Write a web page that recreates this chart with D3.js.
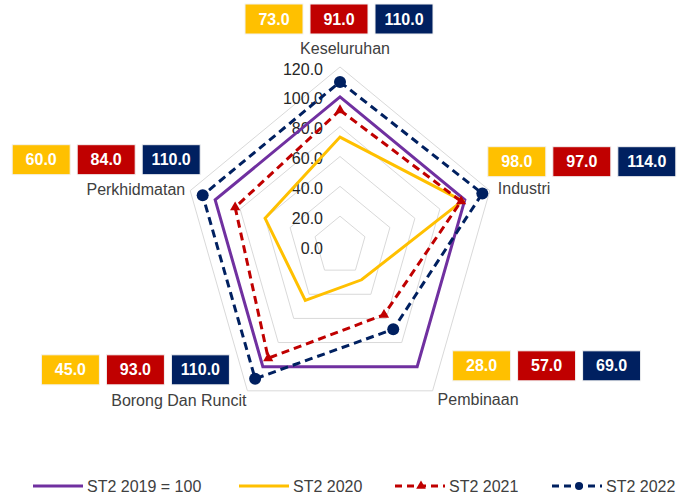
<!DOCTYPE html>
<html>
<head>
<meta charset="utf-8">
<script src="https://cdn.jsdelivr.net/npm/d3@7"></script>
<style>
  body { margin: 0; background: #fff; }
  text { font-family: "Liberation Sans", Arial, sans-serif; }
</style>
</head>
<body>
<div id="chart"></div>
<script>
// data
const categories = ["Keseluruhan", "Industri", "Pembinaan", "Borong Dan Runcit", "Perkhidmatan"]
const st2019 = [100, 100, 100, 100, 100]
const st2020 = [73, 98, 28, 45, 60]
const st2021 = [91, 97, 57, 93, 84]
const st2022 = [110, 114, 69, 110, 110]
const tickValues = [0, 20, 40, 60, 80, 100, 120]
const seriesNames = ["ST2 2019 = 100", "ST2 2020", "ST2 2021", "ST2 2022"]

const width = 693, height = 496
const cx = 340, cy = 246
const xStretch = 0.88 // the reference is squeezed horizontally

const svg = d3.select("#chart").append("svg")
    .attr("width", width)
    .attr("height", height)

const r = d3.scaleLinear().domain([0, 120]).range([0, 179])
const angle = d3.scalePoint().domain(categories).range([0, 4 * 72])

function pt(cat, v) {
    const a = (angle(cat) - 90) * Math.PI / 180
    return [cx + r(v) * Math.cos(a) * xStretch, cy + r(v) * Math.sin(a)]
}

const series = [
    { name: seriesNames[0], values: st2019, color: "#7030A0", dash: null, marker: null },
    { name: seriesNames[1], values: st2020, color: "#FFC000", dash: null, marker: null },
    { name: seriesNames[2], values: st2021, color: "#C00000", dash: "8,5", marker: "tri" },
    { name: seriesNames[3], values: st2022, color: "#002060", dash: "8,5", marker: "circle" }
]

// gridline rings
svg.selectAll("path.ring")
    .data(tickValues.filter(d => d > 0))
    .enter()
    .append("path")
    .attr("class", "ring")
    .attr("d", t => d3.line()(categories.map(c => pt(c, t))) + "Z")
    .style("fill", "none")
    .style("stroke", "#d9d9d9")
    .style("stroke-width", 1)

// tick labels
svg.selectAll("text.tick")
    .data(tickValues)
    .enter()
    .append("text")
    .attr("class", "tick")
    .attr("x", 323)
    .attr("y", d => pt(categories[0], d)[1] + 2)
    .attr("dy", "0.35em")
    .style("text-anchor", "end")
    .style("font-size", "16px")
    .style("fill", "#262626")
    .text(d => d.toFixed(1))

// series lines
series.forEach(s => {
    const pts = categories.map((c, i) => pt(c, s.values[i]))
    svg.append("path")
        .attr("d", d3.line()(pts) + "Z")
        .style("fill", "none")
        .style("stroke", s.color)
        .style("stroke-width", 3)
        .style("stroke-dasharray", s.dash)
    if (s.marker == "circle") {
        svg.selectAll(null).data(pts).enter().append("circle")
            .attr("cx", d => d[0]).attr("cy", d => d[1]).attr("r", 6)
            .style("fill", s.color)
    } else if (s.marker == "tri") {
        svg.selectAll(null).data(pts).enter().append("path")
            .attr("d", d3.symbol().type(d3.symbolTriangle).size(45))
            .attr("transform", d => "translate(" + d[0] + "," + d[1] + ")")
            .style("fill", s.color)
    }
})

// category labels + value boxes (layout relative to outer vertex)
const layout = {
    "Keseluruhan":       { lx: 5,   ly: -19, anchor: "middle", bx: -95,  by: -63 },
    "Industri":          { lx: 8,   ly: -2,  anchor: "start",  bx: -2,   by: -44 },
    "Pembinaan":         { lx: 5,   ly: 9,   anchor: "start",  bx: 20,   by: -40 },
    "Borong Dan Runcit": { lx: -1,  ly: 10,  anchor: "end",    bx: -206, by: -36 },
    "Perkhidmatan":      { lx: -5,  ly: -1,  anchor: "end",    bx: -178, by: -46 }
}
const boxW = 58, boxH = 30, boxStep = 65

categories.forEach((c, i) => {
    const [vx, vy] = pt(c, 120)
    const L = layout[c]
    svg.append("text")
        .attr("x", vx + L.lx)
        .attr("y", vy + L.ly)
        .attr("dy", "0.35em")
        .style("text-anchor", L.anchor)
        .style("font-size", "16px")
        .style("fill", "#404040")
        .text(c)

    series.slice(1).forEach((s, j) => {
        const g = svg.append("g")
            .attr("transform", "translate(" + (vx + L.bx + j * boxStep) + "," + (vy + L.by) + ")")
        g.append("rect")
            .attr("width", boxW).attr("height", boxH)
            .style("fill", s.color)
            .style("stroke", "#f2f2f2")
            .style("stroke-width", 1)
        g.append("text")
            .attr("x", boxW / 2).attr("y", boxH / 2)
            .attr("dy", "0.35em")
            .style("text-anchor", "middle")
            .style("font-size", "16px")
            .style("font-weight", "bold")
            .style("fill", "#fff")
            .text(s.values[i].toFixed(1))
    })
})

// legend
const legendX = [33, 239, 395, 552]
const legendY = 486
const legend = svg.selectAll(".legend")
    .data(series)
    .enter()
    .append("g")
    .attr("class", "legend")
    .attr("transform", (d, i) => "translate(" + legendX[i] + "," + legendY + ")")

legend.append("line")
    .attr("x1", 0).attr("x2", 50)
    .style("stroke", d => d.color)
    .style("stroke-width", 3)
    .style("stroke-dasharray", d => d.dash ? "7,5" : null)

legend.filter(d => d.marker == "tri").append("path")
    .attr("d", d3.symbol().type(d3.symbolTriangle).size(40))
    .attr("transform", "translate(26,0)")
    .style("fill", d => d.color)
legend.filter(d => d.marker == "circle").append("circle")
    .attr("cx", 27).attr("r", 4)
    .style("fill", d => d.color)

legend.append("text")
    .attr("x", 54)
    .attr("dy", "0.35em")
    .style("font-size", "16px")
    .style("fill", "#404040")
    .text(d => d.name)
</script>
</body>
</html>
